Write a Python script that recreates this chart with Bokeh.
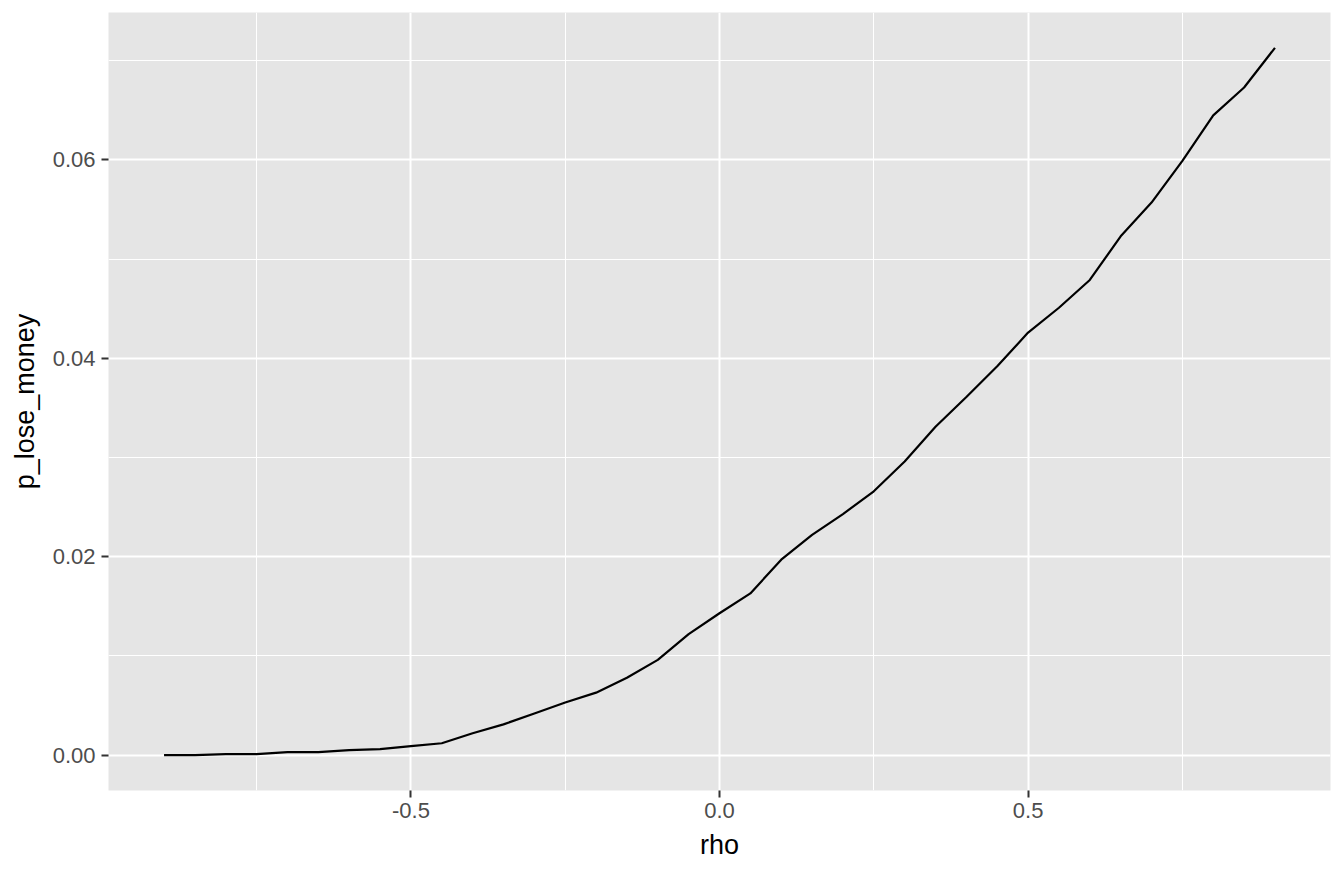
from bokeh.plotting import figure
from bokeh.models import FixedTicker, Range1d
from bokeh.embed import file_html
from bokeh.resources import INLINE

rho = [-0.9, -0.85, -0.8, -0.75, -0.7, -0.65, -0.6, -0.55, -0.5, -0.45,
       -0.4, -0.35, -0.3, -0.25, -0.2, -0.15, -0.1, -0.05, 0.0, 0.05,
       0.1, 0.15, 0.2, 0.25, 0.3, 0.35, 0.4, 0.45, 0.5, 0.55,
       0.6, 0.65, 0.7, 0.75, 0.8, 0.85, 0.9]
p_lose_money = [0.0000, 0.0000, 0.0001, 0.0001, 0.0003, 0.0003, 0.0005, 0.0006, 0.0009, 0.0012,
                0.0022, 0.0031, 0.0042, 0.0053, 0.0063, 0.0078, 0.0096, 0.0122, 0.0143, 0.0163,
                0.0197, 0.0222, 0.0243, 0.0266, 0.0296, 0.0331, 0.0361, 0.0392, 0.0426, 0.0451,
                0.0479, 0.0523, 0.0557, 0.0599, 0.0645, 0.0673, 0.0713]

x_ticks = [-0.5, 0.0, 0.5]
x_minor = [-0.75, -0.25, 0.25, 0.75]
y_ticks = [0.0, 0.02, 0.04, 0.06]
y_minor = [0.01, 0.03, 0.05, 0.07]
x_labels = {-0.5: "-0.5", 0.0: "0.0", 0.5: "0.5"}
y_labels = {0.0: "0.00", 0.02: "0.02", 0.04: "0.04", 0.06: "0.06"}

xpad = (max(rho) - min(rho)) * 0.05
ypad = (max(p_lose_money) - min(p_lose_money)) * 0.05

p = figure(width=1336, height=865, output_backend="svg", toolbar_location=None,
           x_range=Range1d(min(rho) - xpad, max(rho) + xpad),
           y_range=Range1d(min(p_lose_money) - ypad, max(p_lose_money) + ypad),
           min_border_left=108, min_border_right=6, min_border_top=12, min_border_bottom=75)

p.background_fill_color = "#E5E5E5"
p.border_fill_color = "white"
p.outline_line_color = None

p.line(rho, p_lose_money, line_color="black", line_width=2.2)

p.xaxis.ticker = FixedTicker(ticks=x_ticks, minor_ticks=x_minor)
p.yaxis.ticker = FixedTicker(ticks=y_ticks, minor_ticks=y_minor)
p.xaxis.major_label_overrides = x_labels
p.yaxis.major_label_overrides = y_labels

for ax in (p.xaxis, p.yaxis):
    ax.axis_line_color = None
    ax.major_tick_line_color = "#333333"
    ax.major_tick_line_width = 2
    ax.major_tick_out = 7
    ax.major_tick_in = 0
    ax.minor_tick_line_color = None
    ax.major_label_text_color = "#4D4D4D"
    ax.major_label_text_font = "Liberation Sans"
    ax.major_label_text_font_size = "22px"
    ax.axis_label_text_font = "Liberation Sans"
    ax.axis_label_text_font_size = "27px"
    ax.axis_label_text_font_style = "normal"
    ax.axis_label_text_color = "black"

p.xaxis.axis_label = "rho"
p.yaxis.axis_label = "p_lose_money"
p.xaxis.major_label_standoff = 5
p.yaxis.major_label_standoff = 6
p.xaxis.axis_label_standoff = 9
p.yaxis.axis_label_standoff = 10

for g in (p.xgrid, p.ygrid):
    g.grid_line_color = "white"
    g.grid_line_width = 2
    g.minor_grid_line_color = "white"
    g.minor_grid_line_width = 1

open("out.html", "w").write(file_html(p, INLINE))
